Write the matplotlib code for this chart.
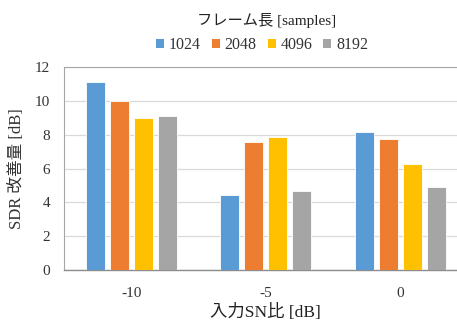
import matplotlib
matplotlib.use("Agg")
import matplotlib.pyplot as plt
from matplotlib.patches import Patch
import numpy as np

categories = ["-10", "-5", "0"]
frame_lengths = ["1024", "2048", "4096", "8192"]
sdr_1024 = [11.1, 4.45, 8.15]
sdr_2048 = [10.0, 7.55, 7.75]
sdr_4096 = [9.0, 7.85, 6.25]
sdr_8192 = [9.1, 4.65, 4.9]
series = [sdr_1024, sdr_2048, sdr_4096, sdr_8192]
colors = ["#5B9BD5", "#ED7D31", "#FFC000", "#A5A5A5"]
yticks = [0, 2, 4, 6, 8, 10, 12]

fam = ["Liberation Serif", "Noto Sans CJK JP"]
plt.rcParams["font.family"] = fam

fig = plt.figure(figsize=(4.57, 3.22), dpi=100)
ax = fig.add_axes([64 / 457, 1 - 270 / 322, 403.5 / 457, 203 / 322])

x = np.arange(len(categories))
pitch = 0.178
width = 0.142
for i, (vals, c) in enumerate(zip(series, colors)):
    ax.bar(x + (i - 1.5) * pitch, vals, width=width, color=c,
           edgecolor="white", linewidth=0.6, zorder=3, label=frame_lengths[i])

ax.set_xlim(-0.5, len(categories) - 0.5)
ax.set_ylim(0, 12)
ax.set_yticks(yticks)
ax.set_xticks(x)
ax.set_xticklabels(categories)
ax.tick_params(axis="both", length=0, labelsize=11, colors="#333333")
ax.tick_params(axis="y", pad=10)
ax.tick_params(axis="x", pad=12)
ax.yaxis.grid(True, color="#D9D9D9", linewidth=0.9, zorder=0)
ax.set_axisbelow(True)
for s in ["left", "top", "right"]:
    ax.spines[s].set_color("#A6A6A6")
    ax.spines[s].set_linewidth(0.8)
ax.spines["bottom"].set_color("#8C8C8C")
ax.spines["bottom"].set_linewidth(1.0)

ax.set_ylabel("SDR 改善量 [dB]", fontsize=12, color="#333333", labelpad=7)
ax.set_xlabel("入力SN比 [dB]", fontsize=12.5, color="#222222", labelpad=3)

fig.text(267 / 457, 1 - 20 / 322, "フレーム長 [samples]", ha="center", va="center",
         fontsize=11, color="#222222")
handles = [Patch(facecolor=c, edgecolor="none") for c in colors]
fig.legend(handles, frame_lengths, loc="center", bbox_to_anchor=(262 / 457, 1 - 45 / 322),
           ncol=4, frameon=False, fontsize=11.5, handlelength=0.5, handleheight=0.5,
           handletextpad=0.3, columnspacing=0.7, labelcolor="#333333")

fig.savefig("out.png", dpi=100)
